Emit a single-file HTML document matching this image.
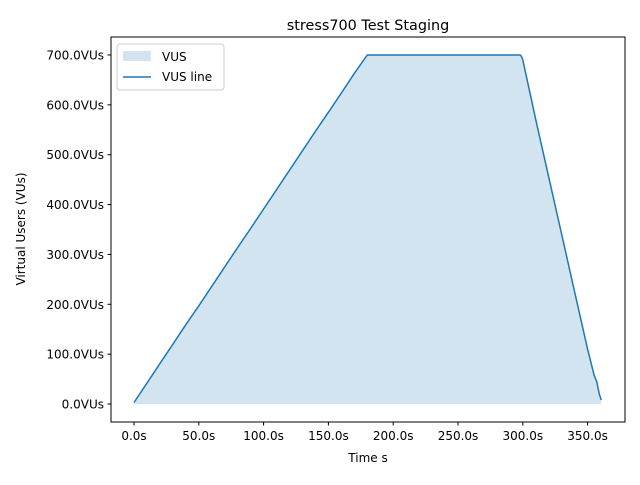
<!DOCTYPE html>
<html><head><meta charset="utf-8"><style>
body{margin:0;background:#fff;}
svg text{font-family:"DejaVu Sans","Liberation Sans",sans-serif;fill:#000;}
</style></head><body>
<svg id="chart" width="640" height="480" xmlns="http://www.w3.org/2000/svg">
<rect width="640" height="480" fill="#fff"/>
<text x="368" y="30" font-size="14.4" text-anchor="middle">stress700 Test Staging</text>
<g id="plot"></g>
<rect x="111" y="37" width="514" height="385" fill="none" stroke="#000" stroke-width="1"/>
<g id="axes"></g>
<text x="368" y="462" font-size="12" text-anchor="middle">Time s</text>
<text transform="translate(25,229) rotate(-90)" font-size="12" text-anchor="middle">Virtual Users (VUs)</text>
<g>
<rect x="117" y="44" width="107" height="46" rx="3" fill="#fff" fill-opacity="0.8" stroke="#ccc"/>
<rect x="123" y="51" width="28" height="10" fill="#1f77b4" fill-opacity="0.2"/>
<text x="162" y="61" font-size="12">VUS</text>
<line x1="123" y1="77" x2="151" y2="77" stroke="#1f77b4" stroke-width="1.5"/>
<text x="162" y="81" font-size="12">VUS line</text>
</g>
</svg>
<script>
const times=[0,10,20,30,40,50,60,70,80,90,100,110,120,130,140,150,160,170,180,200,220,240,260,280,296,298,299,300,310,320,330,340,350,355,357,359,360.5];
const vus=[3,42,81,120,159,197,236,275,314,352,391,430,469,508,547,585,624,663,700,700,700,700,700,700,700,700,697,690,570,455,340,225,110,58,45,20,8];
const xTicks=[0,50,100,150,200,250,300,350];
const yTicks=[0,100,200,300,400,500,600,700];
const xS=v=>134+v*1.296;
const yS=v=>404-v*0.4986;
const NS="http://www.w3.org/2000/svg";
const plot=document.getElementById('plot');
const axes=document.getElementById('axes');
let pts=times.map((t,i)=>xS(t).toFixed(1)+","+yS(vus[i]).toFixed(1));
const area=document.createElementNS(NS,'polygon');
area.setAttribute('points',pts.join(' ')+" "+xS(times[times.length-1]).toFixed(1)+","+yS(0)+" "+xS(times[0])+","+yS(0));
area.setAttribute('fill','#1f77b4');area.setAttribute('fill-opacity','0.2');


plot.appendChild(area);
const line=document.createElementNS(NS,'polyline');
line.setAttribute('points',pts.join(' '));
line.setAttribute('fill','none');line.setAttribute('stroke','#1f77b4');line.setAttribute('stroke-width','1.5');


plot.appendChild(line);
xTicks.forEach(v=>{
 const x=xS(v);
 const l=document.createElementNS(NS,'line');
 l.setAttribute('x1',x);l.setAttribute('x2',x);l.setAttribute('y1',422);l.setAttribute('y2',425.5);l.setAttribute('stroke','#000');
 
 
 axes.appendChild(l);
 const t=document.createElementNS(NS,'text');
 t.setAttribute('x',x);t.setAttribute('y',440);t.setAttribute('font-size','12');t.setAttribute('text-anchor','middle');
 t.textContent=v.toFixed(1)+"s";
 
 
 axes.appendChild(t);
});
yTicks.forEach(v=>{
 const y=yS(v);
 const l=document.createElementNS(NS,'line');
 l.setAttribute('x1',107.5);l.setAttribute('x2',111);l.setAttribute('y1',y);l.setAttribute('y2',y);l.setAttribute('stroke','#000');
 
 
 axes.appendChild(l);
 const t=document.createElementNS(NS,'text');
 t.setAttribute('x',104);t.setAttribute('y',y+4.5);t.setAttribute('font-size','12');t.setAttribute('text-anchor','end');
 t.textContent=v.toFixed(1)+"VUs";
 
 
 axes.appendChild(t);
});
</script>
</body></html>
